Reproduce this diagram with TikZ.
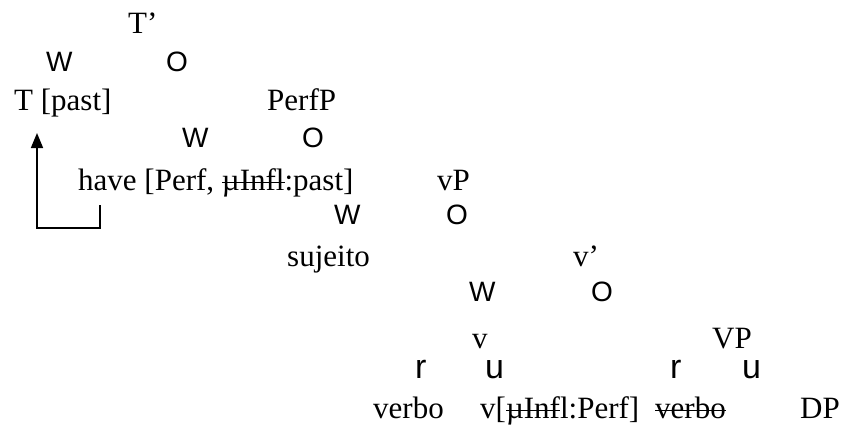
\documentclass[tikz,border=0pt]{standalone}
\usepackage{fontspec}
\setmainfont{Liberation Serif}
\newfontfamily\glyphfont{Liberation Sans}
\newcommand{\strk}[1]{\leavevmode\setbox0=\hbox{#1}\rlap{\rule[7pt]{\wd0}{1.3pt}}\box0}
\usetikzlibrary{arrows.meta}
\begin{document}
\begin{tikzpicture}[x=1pt,y=-1pt,
  lab/.style={anchor=base west, inner sep=0pt, font=\fontsize{31}{36}\selectfont},
  br/.style={anchor=base west, inner sep=0pt, font=\fontsize{28}{32}\glyphfont\selectfont},
  brs/.style={anchor=base west, inner sep=0pt, font=\fontsize{34}{40}\glyphfont\selectfont},
  mover/.style={line width=1.6pt, -{Triangle[length=15pt,width=12pt]}}]
\path[use as bounding box, fill=white] (0,0) rectangle (845,428);
% row 1
\node[lab] (Tbar) at (128,34) {T’};
\node[br] (w1) at (46,71) {W};
\node[br] (o1) at (166,71) {O};
% row 3
\node[lab] (T) at (14,110) {T [past]};
\node[lab] (PerfP) at (267,110) {PerfP};
\node[br] (w2) at (182,147) {W};
\node[br] (o2) at (302,147) {O};
% row 5
\node[lab] (have) at (78,190) {have [Perf, \strk{µInfl}:past]};
\node[lab] (vP) at (437,190) {vP};
\node[br] (w3) at (334,224) {W};
\node[br] (o3) at (446,224) {O};
% row 7
\node[lab] (suj) at (287,266) {sujeito};
\node[lab] (vbar) at (573,266) {v’};
\node[br] (w4) at (469,301) {W};
\node[br] (o4) at (591,301) {O};
% row 9
\node[lab] (v) at (472,348) {v};
\node[lab] (VP) at (712,348) {VP};
\node[brs] (r1) at (415,378) {r};
\node[brs] (u1) at (485,378) {u};
\node[brs] (r2) at (670,378) {r};
\node[brs] (u2) at (742,378) {u};
% row 11
\node[lab] (verbo) at (373,418) {verbo};
\node[lab] (vhead) at (480,418) {v[\strk{µInf}l:Perf]};
\node[lab] (verbocopy) at (655,418) {\strk{verbo}};
\node[lab] (DP) at (800,418) {DP};
% movement arrow
\coordinate (m0) at (100,205);
\coordinate (m1) at (100,228);
\coordinate (m2) at (37,228);
\coordinate (m3) at (37,133);
\draw[mover] (m0) -- (m1) -- (m2) -- (m3);
\end{tikzpicture}
\end{document}
